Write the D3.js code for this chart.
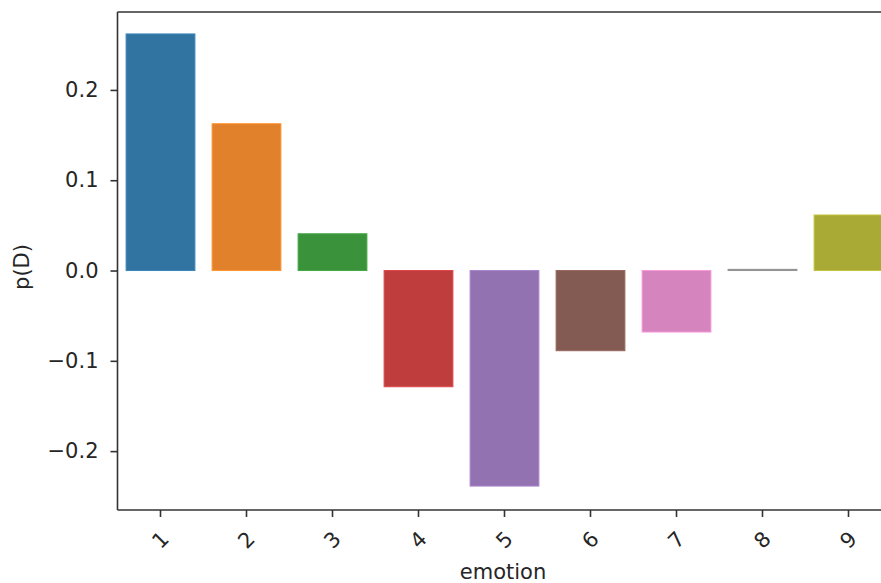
<!DOCTYPE html>
<html>
<head>
<meta charset="utf-8">
<script src="https://cdn.jsdelivr.net/npm/d3@7"></script>
<style>
  html, body { margin: 0; padding: 0; background: #fff; }
  svg { display: block; }
  text { font-family: "DejaVu Sans", sans-serif; fill: #262626; }
</style>
</head>
<body>
<svg id="chart" width="881" height="583"></svg>
<script>
const categories = ["1", "2", "3", "4", "5", "6", "7", "8", "9"];
const values = [0.262, 0.1626, 0.0407, -0.1287, -0.2387, -0.0888, -0.0681, 0.0013, 0.0615];
const colors = ["#3274a1", "#e1812c", "#3a923a", "#c03d3e", "#9372b2", "#845b53", "#d684bd", "#7f7f7f", "#a9aa35"];
const yTicks = [-0.2, -0.1, 0.0, 0.1, 0.2];
const xLabel = "emotion";
const yLabel = "p(D)";

(function () {
const svg = d3.select("#chart");
const mLeft = 117.5, mTop = 12, mBottom = 510;
const step = 86;
const mRight = mLeft + step * categories.length;

const x = d3.scaleBand().domain(categories).range([mLeft, mRight]).paddingInner(0.2).paddingOuter(0.1);
const y = d3.scaleLinear().domain([-0.2652, 0.2863]).range([mBottom, mTop]);

// bars
svg.append("g").selectAll("rect").data(values).enter().append("rect")
  .attr("x", (d, i) => x(categories[i]))
  .attr("width", x.bandwidth())
  .attr("y", d => y(Math.max(0, d)))
  .attr("height", d => Math.abs(y(d) - y(0)))
  .attr("fill", (d, i) => colors[i])
  .attr("stroke", (d, i) => d3.color(colors[i]).brighter(0.4).formatHex())
  .attr("stroke-width", 1);

// y axis
const yAxis = d3.axisLeft(y).tickValues(yTicks).tickSize(7).tickPadding(12)
  .tickFormat(d => d3.format(".1f")(d).replace("-", "\u2212"));
const gy = svg.append("g").attr("transform", `translate(${mLeft},0)`).call(yAxis);
gy.select(".domain").remove();
gy.selectAll(".tick line").attr("stroke", "#333").attr("stroke-width", 1.6);
gy.selectAll(".tick text").style("font-size", "21px").attr("fill", "#262626");

// x axis
const xAxis = d3.axisBottom(x).tickSize(7).tickPadding(4);
const gx = svg.append("g").attr("transform", `translate(0,${mBottom})`).call(xAxis);
gx.select(".domain").remove();
gx.selectAll(".tick line").attr("stroke", "#333").attr("stroke-width", 1.6);
gx.selectAll(".tick text")
  .style("font-size", "21px")
  .attr("fill", "#262626")
  .attr("text-anchor", "middle")
  .attr("dy", null)
  .attr("y", null)
  .attr("dominant-baseline", "central")
  .attr("transform", "translate(0,30) rotate(-45)");

// spines
const sp = svg.append("g").attr("stroke", "#333").attr("stroke-width", 1.6).attr("fill", "none");
sp.append("line").attr("x1", mLeft).attr("x2", mLeft).attr("y1", mTop).attr("y2", mBottom);
sp.append("line").attr("x1", mLeft).attr("x2", mRight).attr("y1", mBottom).attr("y2", mBottom);
sp.append("line").attr("x1", mLeft).attr("x2", mRight).attr("y1", mTop).attr("y2", mTop);
sp.append("line").attr("x1", mRight).attr("x2", mRight).attr("y1", mTop).attr("y2", mBottom);

// axis labels
svg.append("text").attr("x", 503).attr("y", 579).attr("text-anchor", "middle")
  .style("font-size", "21px").text(xLabel);
svg.append("text").attr("transform", "translate(29,267) rotate(-90)").attr("text-anchor", "middle")
  .style("font-size", "21px").text(yLabel);
})();
</script>
</body>
</html>
